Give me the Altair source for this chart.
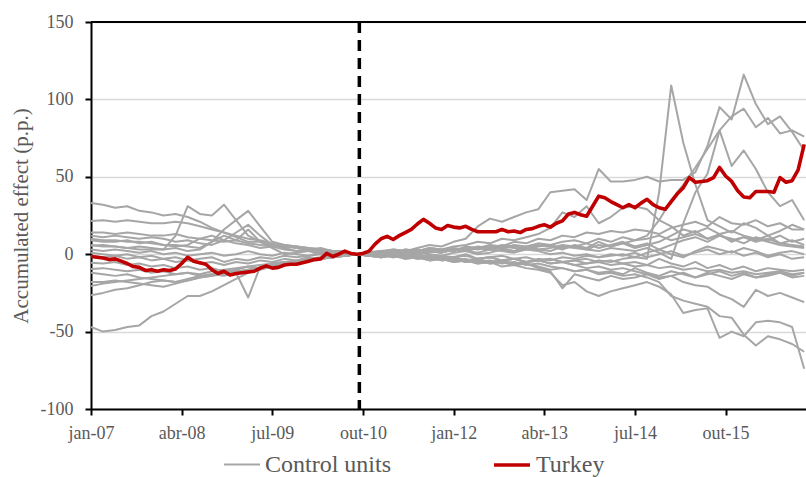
import json

import altair as alt
import pandas as pd

# ---------------------------------------------------------------------------
# Data: accumulated effect (p.p.), monthly index 0 = jan-07
# ---------------------------------------------------------------------------
TURKEY_MONTHS = list(range(0, 119))
CONTROL_MONTHS = list(range(0, 119, 2))
TICK_MONTHS = [0, 15, 30, 45, 60, 75, 90, 105]
TICK_LABELS = ["jan-07", "abr-08", "jul-09", "out-10", "jan-12", "abr-13", "jul-14", "out-15"]
Y_TICKS = [-100, -50, 0, 50, 100, 150]
TREATMENT_MONTH = 44.4

turkey = [
    -1.5, -2, -2.5, -3.5, -3, -4.5, -6, -8, -8.5, -10.5,
    -10, -11, -10, -10.5, -9.5, -6, -2, -4.5, -5.5, -6.5,
    -10, -12.5, -11, -13.5, -12.5, -12, -11.5, -11, -9, -7.5,
    -9, -8.5, -7, -6.5, -6.5, -5.5, -4.5, -3.5, -3, 0.5,
    -1.5, 0, 2, 0.5, 0, 0.5, 2, 6.5, 10, 11.5,
    9.5, 12, 14, 16, 19.5, 22.5, 20, 17, 16, 18.5,
    17.5, 17, 18, 16, 14.5, 14.5, 14.5, 14.5, 16, 14.5,
    15, 14, 16, 16.5, 18, 19, 17.5, 20, 21.5, 26,
    27, 25.5, 24.5, 31, 37.5, 36.5, 34, 32, 30, 32,
    30, 33, 35.5, 32, 30, 29, 34, 39, 43, 49.5,
    46.5, 47, 47.5, 49.5, 56, 50.5, 47, 41, 37, 36.5,
    40.5, 40.5, 40.5, 40, 49.5, 46.5, 47.5, 54.5, 71,
]

# Control units, sampled every two months (0, 2, ..., 118)
ctrl_01 = [33, 32, 30, 31, 28, 27, 25, 26, 24, 21, 17, 14, 11, 8, 8, 5, 6, 4, 3, 4, 2, 1, 0,
           1, 2, 0, 3, 2, 4, 3, 2, 5, 4, 6, 5, 8, 7, 10, 9, 12, 11, 14, 13, 15, 14, 16, 15, 13,
           17, 19, 21, 18, 24, 20, 19, 22, 18, 20, 16, 16]
ctrl_02 = [21.5, 22, 21, 22, 21, 20, 20, 21, 20, 18, 16, 14, 12, 10, 9, 7, 6, 5, 4, 3, 2, 1, 0,
           1, 2, 0, 3, 2, 4, 3, 5, 6, 8, 7, 10, 9, 11, 13, 17, 27, 24, 31, 20, 24, 30, 31, 29,
           22, 18, 12, 15, 10, 13, 8, 11, 9, 12, 7, 6, 5]
ctrl_03 = [6, 5, 5, 4, 3, 3, 3, 12, 31, 26, 25, 32, 22, 12, 8, 6, 5, 4, 3, 3, 2, 1, 0,
           1, 2, 3, 2, 4, 6, 5, 8, 10, 18, 23, 21, 24, 27, 29, 40, 41, 42, 35, 55, 47, 47, 48,
           50, 47, 48, 48, 53, 70, 95, 87, 116, 97, 84, 89, 79, 67]
ctrl_04 = [10, 9, 9, 8, 8, 7, 6, 6, 5, 4, 8, 16, 22, 28, 18, 8, 6, 5, 4, 3, 2, 2, 0,
           0, -1, 1, 0, 2, 1, 3, 2, 4, 3, 5, 4, 6, 5, 7, 6, 8, 9, 7, 10, 8, 11, 9, 10, 12, 9,
           11, 13, 10, 12, 9, 11, 8, 10, 7, 9, 6]
ctrl_05 = [14, 14, 13, 14, 13, 12, 12, 13, 11, 10, 9, 8, 9, 7, 6, 5, 4, 5, 3, 2, 2, 1, 0,
           2, 1, 3, 2, 1, 3, 2, 4, 3, 5, 4, 6, 5, 4, 6, 5, 3, 6, 4, 8, 5, 7, 9, 12, 22, 35, 45,
           56, 68, 80, 89, 94, 82, 88, 78, 80, 76]
ctrl_06 = [12, 11, 12, 11, 10, 11, 10, 8, 9, 7, 6, 9, 14, 19, 12, 6, 4, 2, 3, 1, 2, 1, 0,
           -1, 0, -2, -1, 1, 0, -1, 1, 2, 0, 1, 3, 2, 4, 3, 2, 5, 4, 3, 6, 5, 7, 4, 6, 8, 12,
           16, 14, 17, 13, 15, 12, 10, 8, 6, 5, 4]
ctrl_07 = [9, 8, 8, 9, 7, 8, 6, 5, 6, 10, 12, 9, 7, 6, 4, 5, 3, 2, 2, 3, 1, 1, 0,
           0, -2, -1, 1, -2, -1, -3, -2, -4, -3, -5, -4, -3, -5, -4, -6, -5, -7, -6, -4, -5,
           -3, -2, -3, 40, 109, 72, 45, 22, 18, 14, 20, 17, 12, 15, 19, 16]
ctrl_08 = [5.5, 6, 5, 4, 5, 4, 3, 4, 2, 3, 8, 12, 9, 16, 8, 4, 0, 1, 2, 0, 1, 0, 0,
           1, 0, 2, 1, 3, 2, 1, 3, 2, 4, 3, 2, 1, 3, 2, 0, 1, -1, 0, -2, -1, 0, -2, 1, 3, 0,
           -2, 2, 5, 3, 1, 4, 2, -1, 1, 2, 0]
ctrl_09 = [3, 2, 3, 2, 1, 2, 0, 1, -1, 0, 1, -1, 0, 2, 0, -1, 1, 0, -1, 1, 0, -1, 0,
           -1, 0, 1, -1, 0, 2, 1, 3, 2, 4, 3, 5, 4, 3, 5, 6, 4, 5, 3, 2, 4, 3, 2, 4, 1, -3,
           20, 40, 52, 80, 57, 67, 55, 40, 31, 35, 22]
ctrl_10 = [1, 0, -1, 0, -2, -1, -3, -2, -4, -3, -2, -5, -3, -4, -2, -3, -1, -2, -1, 0, -1, 0, 0,
           0, 1, -1, 0, -2, -1, -3, -2, -1, -3, -2, -4, -3, -5, -4, -3, -5, -4, -6, -5, -7,
           -6, -8, -7, -9, -8, -10, -9, -11, -10, -12, -11, -13, -12, -11, -13, -12]
ctrl_11 = [-1, -2, -1, -3, -2, -4, -3, -5, -4, -6, -5, -7, -5, -6, -4, -5, -3, -4, -2, -3, -1, -1, 0,
           1, 0, -1, 0, -2, -1, -3, -2, -4, -3, -2, -4, -3, -5, -4, -6, -5, -7, -9, -8, -10,
           -9, -11, -13, -15, -14, -18, -20, -21, -26, -29, -34, -23, -27, -25, -28, -31]
ctrl_12 = [-5.5, -6, -5, -7, -6, -8, -7, -9, -8, -10, -9, -11, -10, -8, -9, -7, -6, -5, -4, -3, -2, -1, 0,
           -1, -2, 0, -1, -3, -2, -4, -3, -5, -4, -6, -5, -7, -6, -8, -10, -9, -11, -10, -12,
           -11, -13, -9, -12, -14, -11, -13, -15, -12, -14, -16, -13, -15, -14, -12, -15, -14]
ctrl_13 = [-9.5, -9, -10, -11, -10, -12, -11, -13, -12, -14, -13, -12, -12, -28, -8, -6, -5, -5, -4, -3, -2, -1, 0,
           -1, 0, -2, -1, -3, -2, -4, -3, -5, -4, -6, -5, -7, -6, -9, -11, -22, -13, -15, -17,
           -14, -16, -15, -13, -16, -14, -12, -15, -13, -11, -14, -12, -15, -13, -11, -14, -12]
ctrl_14 = [-12, -13, -14, -13, -15, -16, -17, -18, -17, -15, -14, -12, -11, -10, -9, -8, -6, -5, -4, -3, -2, -1, 0,
           0, -1, 1, -1, 0, -2, -1, -2, 0, -3, -2, -1, -3, -2, -4, -3, -5, -4, -3, -5, -4, -6,
           -5, -7, -3, -6, -8, -5, -9, -7, -10, -8, -11, -9, -10, -11, -10]
ctrl_15 = [-18, -18, -17, -18, -19, -20, -21, -19, -17, -15, -14, -13, -12, -10, -9, -8, -6, -5, -4, -3, -2, -1, 0,
           0, -1, 1, -2, -1, -3, -2, -4, -3, -5, -4, -6, -5, -7, -6, -8, -9, -11, -10, -13, -12,
           -14, -13, -15, -18, -27, -30, -32, -34, -40, -41, -52, -59, -53, -55, -58, -63]
ctrl_16 = [-20.5, -19, -18, -17, -16, -15, -14, -13, -12, -13, -11, -10, -9, -8, -7, -6, -5, -4, -3, -2, -1, -1, 0,
           1, 0, 2, 1, 0, 2, 1, 3, 2, 1, 3, 4, 2, 5, 3, 4, 6, 5, 7, 4, 6, 8, 5, 7, 3, 6, 9, 11,
           8, 12, 10, 7, 11, 9, 12, 8, 10]
ctrl_17 = [-26.5, -25, -23, -22, -20, -18, -17, -18, -16, -14, -13, -14, -12, -10, -9, -7, -6, -5, -4, -3, -2, -1, 0,
           -1, -2, 0, -3, -2, -4, -3, -5, -4, -6, -5, -8, -7, -9, -10, -12, -20, -18, -24, -27,
           -24, -22, -20, -18, -21, -26, -38, -36, -35, -54, -50, -53, -44, -43, -44, -47, -74]
ctrl_18 = [-47, -50, -49, -47, -46, -40, -37, -32, -27, -27, -24, -20, -16, -12, -10, -8, -6, -5, -4, -3, -2, -1, 0,
           -1, -2, -1, -3, -2, -4, -3, -5, -4, -6, -5, -4, -6, -5, -3, -4, -2, -3, -1, -2, 0, -1,
           1, -2, 0, 2, -1, 1, 3, 0, 2, -1, 1, -2, 0, -3, -2]

controls = [ctrl_01, ctrl_02, ctrl_03, ctrl_04, ctrl_05, ctrl_06, ctrl_07, ctrl_08, ctrl_09,
            ctrl_10, ctrl_11, ctrl_12, ctrl_13, ctrl_14, ctrl_15, ctrl_16, ctrl_17, ctrl_18]

GROUPS = ["Control units", "Turkey"]
GROUP_COLORS = ["#a6a6a6", "#c00000"]
GROUP_WIDTHS = [2, 3.6]

# ---------------------------------------------------------------------------
# Long tables for the line layers
# ---------------------------------------------------------------------------
rows = []
for i, series in enumerate(controls, start=1):
    assert len(series) == len(CONTROL_MONTHS)
    for m, v in zip(CONTROL_MONTHS, series):
        rows.append({"unit": f"u{i:02d}", "group": GROUPS[0], "month": m, "value": v})
control_df = pd.DataFrame(rows)

assert len(turkey) == len(TURKEY_MONTHS)
turkey_df = pd.DataFrame({"unit": "TUR", "group": GROUPS[1],
                          "month": TURKEY_MONTHS, "value": turkey})

FONT = "Liberation Serif"
TEXT_GREY = "#595959"

label_expr = f"{json.dumps(TICK_LABELS)}[round(datum.value / 15)]"

x_enc = alt.X(
    "month:Q",
    scale=alt.Scale(domain=[0, 118.3], nice=False, zero=False),
    axis=alt.Axis(
        values=TICK_MONTHS, labelExpr=label_expr, title=None, grid=False,
        domainColor="black", domainWidth=2, tickColor="black", tickWidth=2,
        tickSize=6, labelFont=FONT, labelFontSize=18, labelColor=TEXT_GREY,
        labelPadding=9, labelFlush=False,
    ),
)
y_enc = alt.Y(
    "value:Q",
    scale=alt.Scale(domain=[-100, 150], nice=False),
    axis=alt.Axis(
        values=Y_TICKS, labelExpr="'' + datum.value", title="Accumulated effect (p.p.)",
        grid=True, gridColor="#d9d9d9", gridWidth=1.5, domainColor="black",
        domainWidth=2, tickColor="black", tickWidth=2, tickSize=6, labelFont=FONT,
        labelFontSize=18, labelColor=TEXT_GREY, labelPadding=12,
        titleFont=FONT, titleFontSize=21, titleFontWeight="normal",
        titleColor=TEXT_GREY, titleX=-70, titleY=193.5, titleAngle=-90,
        titleAlign="center", titleBaseline="middle",
    ),
)

legend = alt.Legend(
    title=None, orient="none", legendX=132, legendY=423, direction="horizontal",
    symbolType="stroke", symbolSize=1296, labelFont=FONT, labelFontSize=24,
    labelColor=TEXT_GREY, labelOffset=4, columnPadding=94,
)
color_enc = alt.Color("group:N", scale=alt.Scale(domain=GROUPS, range=GROUP_COLORS), legend=legend)
width_enc = alt.StrokeWidth("group:N", scale=alt.Scale(domain=GROUPS, range=GROUP_WIDTHS), legend=legend)

control_lines = alt.Chart(control_df).mark_line(strokeJoin="round").encode(
    x=x_enc, y=y_enc, color=color_enc, strokeWidth=width_enc, detail="unit:N",
)
turkey_line = alt.Chart(turkey_df).mark_line(strokeJoin="round").encode(
    x="month:Q", y="value:Q", color=color_enc, strokeWidth=width_enc,
)
treatment = alt.Chart(pd.DataFrame({"month": [TREATMENT_MONTH]})).mark_rule(
    color="black", strokeWidth=3.5, strokeDash=[11, 7]
).encode(x="month:Q")
top_frame = alt.Chart(pd.DataFrame({"value": [Y_TICKS[-1]]})).mark_rule(
    color="black", strokeWidth=2
).encode(y="value:Q")

chart = (
    alt.layer(control_lines, turkey_line, treatment, top_frame)
    .properties(
        width=715, height=387,
        padding={"left": 91, "top": 22, "right": 0, "bottom": 68},
        autosize=alt.AutoSizeParams(type="none"),
        background="white",
    )
    .configure_view(stroke=None)
)

chart.save("out.html", embed_options={"renderer": "svg", "actions": False})
